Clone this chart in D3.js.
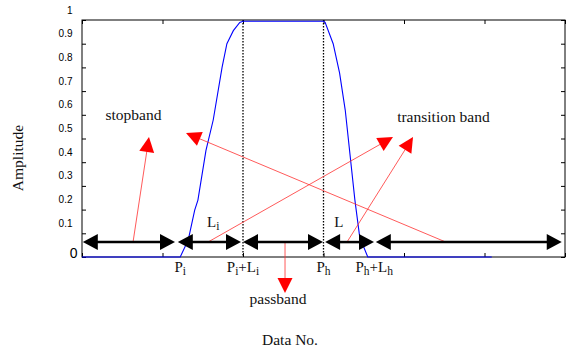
<!DOCTYPE html>
<html>
<head>
<meta charset="utf-8">
<script src="https://cdn.jsdelivr.net/npm/d3@7"></script>
<style>
  body { margin: 0; background: #fff; }
  svg { display: block; }
</style>
</head>
<body>
<div id="chart"></div>
<script>
// filter response
var dataNo    = [0, 119, 122, 132, 140, 144, 154, 163, 174, 180, 188, 196, 200, 300, 302, 312, 320, 327, 339, 345, 355, 509];
var amplitude = [0, 0, 0, 0.072, 0.198, 0.24, 0.45, 0.578, 0.80, 0.90, 0.955, 0.99, 0.995, 0.995, 0.99, 0.90, 0.776, 0.62, 0.24, 0.084, 0, 0];

var yTicks = [0, 0.1, 0.2, 0.3, 0.4, 0.5, 0.6, 0.7, 0.8, 0.9, 1];
var yTickLabels = ["0", "0.1", "0.2", "0.3", "0.4", "0.5", "0.6", "0.7", "0.8", "0.9", "1"];
var xTicks = [0, 100, 200, 300, 400, 500, 600];

// band edges (dotted lines)
var bandEdges = [200, 300];

// black double arrows along the bottom
var bandLevel = 0.063;
var bandStart = [1, 119, 200, 302, 365];
var bandEnd   = [115.5, 197.5, 299.4, 362.7, 596];

// red pointer arrows (from, to)
var pointerFromX = [63.4, 452, 156.5, 329.2, 252.2];
var pointerFromY = [0.063, 0.063, 0.063, 0.063, 0.063];
var pointerToX   = [83.2, 129.2, 386.3, 411.2, 252.2];
var pointerToY   = [0.506, 0.523, 0.506, 0.506, -0.152];

// band names
var bandNames  = ["stopband", "transition band", "passband"];
var bandNameX  = [64, 449, 243.5];
var bandNameY  = [0.578, 0.571, -0.2];

// marks under the axis: main text + subscript pieces
var markParts = [
  [["P", ""], ["i", "sub"]],
  [["P", ""], ["i", "sub"], ["+L", ""], ["i", "sub"]],
  [["P", ""], ["h", "sub"]],
  [["P", ""], ["h", "sub"], ["+L", ""], ["h", "sub"]],
  [["L", ""], ["i", "sub"]],
  [["L", ""]]
];
var markX = [122, 200, 300, 363, 163, 319];
var markY = [-0.063, -0.063, -0.063, -0.063, 0.127, 0.127];

var margin = {top: 20, right: 3, bottom: 94, left: 82},
    W = 568, H = 351,
    width = W - margin.left - margin.right,
    height = H - margin.top - margin.bottom;

var svg = d3.select("#chart").append("svg")
    .attr("width", W)
    .attr("height", H);

var x = d3.scaleLinear().domain([0, 600]).range([margin.left, margin.left + width]);
var y = d3.scaleLinear().domain([0, 1]).range([margin.top + height, margin.top]);

var serif = "'Liberation Serif', 'Times New Roman', serif";
var sans = "'Liberation Sans', Arial, sans-serif";

// frame
svg.append("rect")
    .attr("x", x(0)).attr("y", y(1))
    .attr("width", x(600) - x(0)).attr("height", y(0) - y(1))
    .attr("fill", "none").attr("stroke", "#000").attr("stroke-width", 1);

// ticks, all pointing inward
function noLabels(g) { g.select(".domain").remove(); g.selectAll("text").remove(); }

svg.append("g").attr("transform", "translate(0," + y(0) + ")")
    .call(d3.axisBottom(x).tickValues(xTicks).tickSize(-4)).call(noLabels);
svg.append("g").attr("transform", "translate(0," + y(1) + ")")
    .call(d3.axisTop(x).tickValues(xTicks).tickSize(-4)).call(noLabels);
svg.append("g").attr("transform", "translate(" + x(600) + ",0)")
    .call(d3.axisRight(y).tickValues(yTicks).tickSize(-4)).call(noLabels);

var yAxis = svg.append("g").attr("transform", "translate(" + x(0) + ",0)")
    .call(d3.axisLeft(y).tickValues(yTicks).tickSize(-4).tickPadding(9.5)
        .tickFormat(function(d, i) { return yTickLabels[i]; }));
yAxis.select(".domain").remove();
yAxis.selectAll(".tick line").attr("stroke", "#000");
yAxis.selectAll("text")
    .attr("fill", "#000")
    .style("font-family", sans)
    .style("font-size", "10px")
    .attr("dy", "-0.7em");
yAxis.selectAll(".tick").filter(function(d) { return d === 0; }).select("text")
    .style("font-size", "14px")
    .attr("x", -4.5)
    .attr("dy", "0em");

// dotted band edges
svg.selectAll(".edge")
    .data(bandEdges)
    .enter().append("line")
    .attr("x1", function(d) { return x(d); })
    .attr("x2", function(d) { return x(d); })
    .attr("y1", y(1)).attr("y2", y(0))
    .attr("stroke", "#000").attr("stroke-width", 1.3)
    .attr("stroke-dasharray", "1.5,1.5");

// blue response curve
var curve = dataNo.map(function(d, i) { return [d, amplitude[i]]; });
svg.append("path")
    .datum(curve)
    .attr("fill", "none")
    .attr("stroke", "#0000ff")
    .attr("stroke-width", 1.1)
    .attr("d", d3.line()
        .x(function(d) { return x(d[0]); })
        .y(function(d) { return y(d[1]); }));

// arrowhead triangle with tip at (tx,ty), pointing along (dx,dy)
function head(tx, ty, dx, dy, len, half) {
    var l = Math.sqrt(dx * dx + dy * dy), ux = dx / l, uy = dy / l;
    var bx = tx - ux * len, by = ty - uy * len;
    return [[tx, ty], [bx - uy * half, by + ux * half], [bx + uy * half, by - ux * half]];
}

// red pointers
var pointers = pointerFromX.map(function(d, i) {
    return {x1: x(d), y1: y(pointerFromY[i]), x2: x(pointerToX[i]), y2: y(pointerToY[i])};
});
var pg = svg.append("g");
pg.selectAll("line").data(pointers).enter().append("line")
    .attr("x1", function(d) { return d.x1; })
    .attr("y1", function(d) { return d.y1; })
    .attr("x2", function(d) { return d.x2 - (d.x2 - d.x1) / Math.hypot(d.x2 - d.x1, d.y2 - d.y1) * 10; })
    .attr("y2", function(d) { return d.y2 - (d.y2 - d.y1) / Math.hypot(d.x2 - d.x1, d.y2 - d.y1) * 10; })
    .attr("stroke", "#ff3030").attr("stroke-width", 0.8);
pg.selectAll("polygon").data(pointers).enter().append("polygon")
    .attr("points", function(d) { return head(d.x2, d.y2, d.x2 - d.x1, d.y2 - d.y1, 15, 7.5).join(" "); })
    .attr("fill", "#ff0000");

// black double arrows
var bands = bandStart.map(function(d, i) { return {a: x(d), b: x(bandEnd[i]), y: y(bandLevel)}; });
var bg = svg.append("g");
bg.selectAll("line").data(bands).enter().append("line")
    .attr("x1", function(d) { return d.a + 10; })
    .attr("x2", function(d) { return d.b - 10; })
    .attr("y1", function(d) { return d.y; })
    .attr("y2", function(d) { return d.y; })
    .attr("stroke", "#000").attr("stroke-width", 2.5);
bg.selectAll("polygon.r").data(bands).enter().append("polygon")
    .attr("class", "r")
    .attr("points", function(d) { return head(d.b, d.y, 1, 0, 15, 8).join(" "); });
bg.selectAll("polygon.l").data(bands).enter().append("polygon")
    .attr("class", "l")
    .attr("points", function(d) { return head(d.a, d.y, -1, 0, 15, 8).join(" "); });

// band names
svg.selectAll(".bandname")
    .data(bandNames)
    .enter().append("text")
    .attr("x", function(d, i) { return x(bandNameX[i]); })
    .attr("y", function(d, i) { return y(bandNameY[i]); })
    .attr("text-anchor", "middle")
    .style("font-family", serif)
    .style("font-size", "15.5px")
    .attr("fill", "#111")
    .text(function(d) { return d; });

// P / L marks with subscripts
var marks = svg.selectAll(".mark")
    .data(markParts)
    .enter().append("text")
    .attr("x", function(d, i) { return x(markX[i]); })
    .attr("y", function(d, i) { return y(markY[i]); })
    .attr("text-anchor", "middle")
    .style("font-family", serif)
    .style("font-size", "15px")
    .attr("fill", "#111");
marks.each(function(parts) {
    var t = d3.select(this), shifted = false;
    parts.forEach(function(p) {
        var s = t.append("tspan").text(p[0]);
        if (p[1] === "sub" && !shifted) { s.attr("dy", 3).style("font-size", "11.5px"); shifted = true; }
        else if (p[1] === "sub") { s.style("font-size", "11.5px"); }
        else if (shifted) { s.attr("dy", -3); shifted = false; }
    });
});

// axis titles
svg.append("text")
    .attr("x", 290).attr("y", 345)
    .attr("text-anchor", "middle")
    .style("font-family", serif).style("font-size", "15.5px")
    .attr("fill", "#111")
    .text("Data No.");

svg.append("text")
    .attr("transform", "translate(23,158) rotate(-90)")
    .attr("text-anchor", "middle")
    .style("font-family", serif).style("font-size", "15.5px")
    .attr("fill", "#111")
    .text("Amplitude");
</script>
</body>
</html>
